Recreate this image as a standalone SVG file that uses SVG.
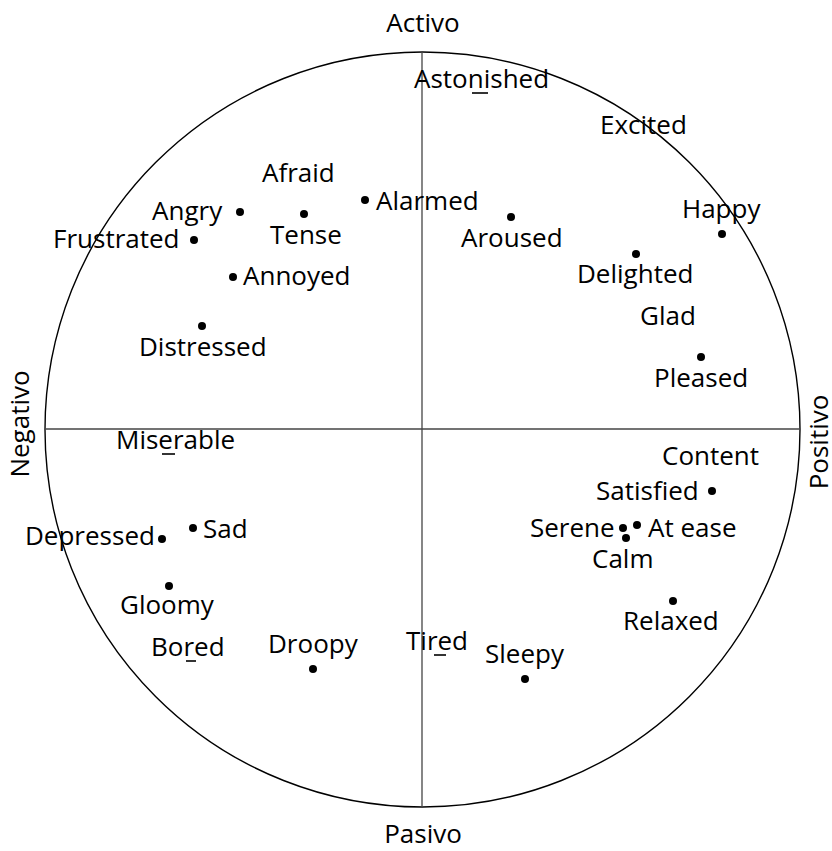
<svg xmlns="http://www.w3.org/2000/svg" width="832" height="851" viewBox="0 0 832 851">
<style>
text{font-family:"Open Sans","Liberation Sans",sans-serif;font-size:26px;fill:#000}
.dot{fill:#000}
.ax{stroke:#444;stroke-width:1.3;fill:none}
.ul{stroke:#000;stroke-width:1.6}
</style>
<rect width="832" height="851" fill="#fff"/>
<g id="frame">
<circle cx="422.5" cy="429.5" r="377.5" fill="none" stroke="#000" stroke-width="1.4"/>
</g>
<g id="connectors">
<line class="ax" x1="422" y1="52" x2="422" y2="807"/>
<line class="ax" x1="45" y1="429" x2="800" y2="429"/>
</g>
<g id="axis-labels">
<text x="423" y="32" text-anchor="middle">Activo</text>
<text x="423" y="843" text-anchor="middle">Pasivo</text>
<text transform="translate(29,424) rotate(-90)" text-anchor="middle">Negativo</text>
<text transform="translate(828,442) rotate(-90)" text-anchor="middle">Positivo</text>
</g>
<g id="astonished"><text x="414" y="88">Astonished</text><line class="ul" x1="472" y1="93" x2="488" y2="93"/></g>
<g id="excited"><text x="600" y="134">Excited</text></g>
<g id="afraid"><text x="262" y="182">Afraid</text></g>
<g id="angry"><text x="152" y="220">Angry</text><circle class="dot" cx="240" cy="212" r="4"/></g>
<g id="tense"><circle class="dot" cx="304" cy="214" r="4"/><text x="270" y="244">Tense</text></g>
<g id="alarmed"><circle class="dot" cx="365" cy="200" r="4"/><text x="376" y="210">Alarmed</text></g>
<g id="aroused"><circle class="dot" cx="511" cy="217" r="4"/><text x="461" y="247">Aroused</text></g>
<g id="happy"><text x="682" y="218">Happy</text><circle class="dot" cx="722" cy="234" r="4"/></g>
<g id="frustrated"><text x="53" y="248">Frustrated</text><circle class="dot" cx="194" cy="240" r="4"/></g>
<g id="annoyed"><circle class="dot" cx="233" cy="277" r="4"/><text x="243" y="285">Annoyed</text></g>
<g id="delighted"><circle class="dot" cx="636" cy="254" r="4"/><text x="577" y="283">Delighted</text></g>
<g id="distressed"><circle class="dot" cx="202" cy="326" r="4"/><text x="139" y="356">Distressed</text></g>
<g id="glad"><text x="640" y="325">Glad</text></g>
<g id="pleased"><circle class="dot" cx="701" cy="357" r="4"/><text x="654" y="387">Pleased</text></g>
<g id="miserable"><text x="116" y="449">Miserable</text><line class="ul" x1="162" y1="454" x2="175" y2="454"/></g>
<g id="content"><text x="662" y="465">Content</text></g>
<g id="satisfied"><text x="596" y="500">Satisfied</text><circle class="dot" cx="712" cy="491" r="4"/></g>
<g id="sad"><circle class="dot" cx="193" cy="528" r="4"/><text x="203" y="538">Sad</text></g>
<g id="depressed"><text x="25" y="545">Depressed</text><circle class="dot" cx="162" cy="539" r="4"/></g>
<g id="serene"><text x="530" y="537">Serene</text><circle class="dot" cx="623" cy="528" r="4"/></g>
<g id="atease"><circle class="dot" cx="637" cy="525" r="4"/><text x="648" y="537">At ease</text></g>
<g id="calm"><circle class="dot" cx="626" cy="538" r="4"/><text x="592" y="568">Calm</text></g>
<g id="gloomy"><circle class="dot" cx="169" cy="586" r="4"/><text x="120" y="614">Gloomy</text></g>
<g id="relaxed"><circle class="dot" cx="673" cy="601" r="4"/><text x="623" y="630">Relaxed</text></g>
<g id="bored"><text x="151" y="656">Bored</text><line class="ul" x1="186" y1="661" x2="196" y2="661"/></g>
<g id="droopy"><text x="268" y="653">Droopy</text><circle class="dot" cx="313" cy="669" r="4"/></g>
<g id="tired"><text x="406" y="650">Tired</text><line class="ul" x1="434" y1="655" x2="446" y2="655"/></g>
<g id="sleepy"><text x="485" y="663">Sleepy</text><circle class="dot" cx="525" cy="679" r="4"/></g>
</svg>
